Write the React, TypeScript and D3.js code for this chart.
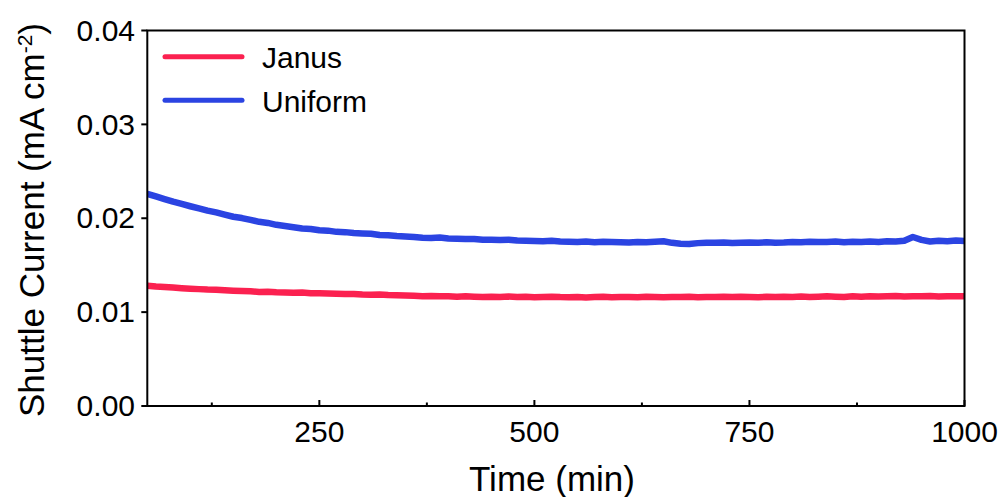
import React from "react";
import * as d3 from "d3";

const times: number[] = d3.range(50, 1001, 10);

const uniformValues: number[] = [
  0.0226, 0.02232, 0.02204, 0.02176, 0.02152, 0.02128, 0.02106, 0.02082, 0.02062, 0.02038,
  0.02016, 0.02002, 0.01982, 0.01962, 0.0195, 0.0193, 0.01918, 0.01905, 0.0189, 0.01885,
  0.01872, 0.01868, 0.01855, 0.01852, 0.01842, 0.01838, 0.01835, 0.01822, 0.01818, 0.0181,
  0.01805, 0.018, 0.01792, 0.0179, 0.01795, 0.01785, 0.01782, 0.01778, 0.0178, 0.01772,
  0.0177, 0.01768, 0.01772, 0.01762, 0.0176, 0.01758, 0.01755, 0.0176, 0.01752, 0.0175,
  0.01748, 0.01752, 0.01745, 0.0175, 0.01748, 0.01745, 0.01742, 0.01748, 0.01745, 0.0175,
  0.01755, 0.01738, 0.01728, 0.01725, 0.01735, 0.0174, 0.01738, 0.01742, 0.01736, 0.0174,
  0.01742, 0.01738, 0.01745, 0.0174, 0.01742, 0.01748, 0.01745, 0.0175, 0.01746, 0.01748,
  0.01752, 0.01745, 0.0175, 0.01748, 0.01752, 0.01748, 0.01755, 0.01752, 0.0176, 0.018,
  0.0177, 0.01752, 0.0176, 0.01755, 0.01762, 0.01758,
];

const janusValues: number[] = [
  0.01282, 0.01272, 0.01268, 0.01262, 0.01255, 0.0125, 0.01245, 0.0124, 0.01238, 0.01232,
  0.01228, 0.01225, 0.01222, 0.01215, 0.01218, 0.01212, 0.0121, 0.01206, 0.01208, 0.012,
  0.012, 0.01198, 0.01195, 0.01192, 0.01194, 0.01188, 0.01185, 0.01188, 0.01182, 0.0118,
  0.01178, 0.01175, 0.0117, 0.01172, 0.01168, 0.0117, 0.01165, 0.01168, 0.01164, 0.01162,
  0.01165, 0.01162, 0.01166, 0.0116, 0.01163, 0.01158, 0.01162, 0.01165, 0.0116, 0.01158,
  0.01162, 0.01156, 0.0116, 0.01163, 0.01158, 0.0116, 0.01162, 0.01158, 0.01164, 0.0116,
  0.01158, 0.01162, 0.0116, 0.01163, 0.01158, 0.0116, 0.01162, 0.01165, 0.0116, 0.01163,
  0.01162, 0.01158, 0.01164, 0.0116, 0.01165, 0.01162, 0.01166, 0.0116, 0.01164, 0.01168,
  0.01165, 0.01162, 0.01168, 0.01165, 0.0117, 0.01166, 0.01168, 0.01172, 0.01166, 0.0117,
  0.01168, 0.01172, 0.01166, 0.0117, 0.01168, 0.0117,
];

const xTicks: number[] = [250, 500, 750, 1000];
const xMinorTicks: number[] = [125, 375, 625, 875];
const yTicks: number[] = [0, 0.01, 0.02, 0.03, 0.04];

const seriesNames = ["Janus", "Uniform"];
const seriesColors = ["#fb2150", "#2b44e2"];

export default function App() {
  const W = 1001;
  const H = 497;
  const left = 147.3;
  const right = 964.5;
  const top = 30.5;
  const bottom = 406;

  const x = d3.scaleLinear().domain([50, 1000]).range([left, right]);
  const y = d3.scaleLinear().domain([0, 0.04]).range([bottom, top]);

  const line = d3
    .line<number>()
    .x((_, i) => x(times[i]))
    .y((d) => y(d))
    .curve(d3.curveLinear);

  const font = "'Liberation Sans', Arial, sans-serif";
  const series = [janusValues, uniformValues];

  return (
    <svg
      width={W}
      height={H}
      style={{ position: "absolute", left: 0, top: 0, background: "#fff" }}
      fontFamily={font}
    >
      <defs>
        <clipPath id="plotclip">
          <rect x={left} y={top} width={right - left} height={bottom - top} />
        </clipPath>
      </defs>
      <g clipPath="url(#plotclip)">
        {series.map((s, k) => (
          <path
            key={k}
            d={line(s) || ""}
            fill="none"
            stroke={seriesColors[k]}
            strokeWidth={6.5}
            strokeLinejoin="round"
          />
        ))}
      </g>
      {/* frame */}
      <rect
        x={left}
        y={top}
        width={right - left}
        height={bottom - top}
        fill="none"
        stroke="#000"
        strokeWidth={2}
      />
      {/* y ticks */}
      {yTicks.map((t) => (
        <g key={t}>
          <line x1={left - 6} x2={left} y1={y(t)} y2={y(t)} stroke="#000" strokeWidth={2} />
          <text
            x={135}
            y={y(t)}
            dy="0.34em"
            textAnchor="end"
            fontSize={30}
            fill="#000"
          >
            {d3.format(".2f")(t)}
          </text>
        </g>
      ))}
      {/* x ticks */}
      {xTicks.map((t) => (
        <g key={t}>
          <line x1={x(t)} x2={x(t)} y1={bottom} y2={bottom - 6} stroke="#000" strokeWidth={2} />
          <text x={x(t)} y={441.5} textAnchor="middle" fontSize={30} fill="#000">
            {t}
          </text>
        </g>
      ))}
      {xMinorTicks.map((t) => (
        <line key={t} x1={x(t)} x2={x(t)} y1={bottom} y2={bottom - 3.5} stroke="#000" strokeWidth={2} />
      ))}
      {/* axis titles */}
      <text x={552} y={491} textAnchor="middle" fontSize={35} fill="#000">
        Time (min)
      </text>
      <text
        transform={`translate(44, 220) rotate(-90)`}
        textAnchor="middle"
        fontSize={35}
        fill="#000"
      >
        Shuttle Current (mA cm
        <tspan dy={-12} fontSize={21}>-2</tspan>
        <tspan dy={12}>)</tspan>
      </text>
      {/* legend */}
      {seriesNames.map((n, k) => (
        <g key={n}>
          <line
            x1={165}
            x2={242}
            y1={56.7 + k * 43.5}
            y2={56.7 + k * 43.5}
            stroke={seriesColors[k]}
            strokeWidth={5}
            strokeLinecap="round"
          />
          <text x={262} y={57 + k * 44} dy="0.35em" fontSize={30} fill="#000">
            {n}
          </text>
        </g>
      ))}
    </svg>
  );
}
